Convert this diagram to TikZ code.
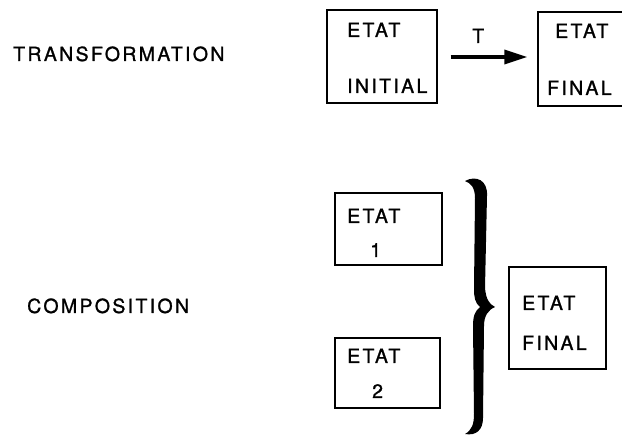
\documentclass[tikz,border=0pt]{standalone}
\usepackage{fontspec}
\setmainfont{TeX Gyre Heros}[LetterSpace=12,FakeBold=1.2]
\usetikzlibrary{arrows.meta}
\begin{document}
\begin{tikzpicture}[x=1pt,y=-1pt,
  box/.style={draw, line width=1.3pt, inner sep=0pt, rectangle},
  lbl/.style={anchor=base west, inner sep=0pt, font=\fontsize{19.5}{22}\selectfont}]
\useasboundingbox (0,0) rectangle (622,435);
\clip (0,0) rectangle (622,435);

% --- Transformation row ---
\node[lbl] (ttrans) at (13,61) {TRANSFORMATION};
\node[box, minimum width=110pt, minimum height=93pt] (init) at (382,56.5) {};
\node[box, minimum width=112pt, minimum height=94pt] (fin) at (594,59) {};
\node[lbl] at (347,37) {ETAT};
\node[lbl] at (347,93) {INITIAL};
\node[lbl] at (555,38) {ETAT};
\node[lbl] at (547,95) {FINAL};
\node[lbl] (tlab) at (472,43) {T};
\draw[line width=3.5pt, shorten <=13pt, shorten >=10pt,
      -{Triangle[length=23pt,width=14pt]}]
  (init.east |- 0,57) -- (fin.west |- 0,57);

% --- Composition row ---
\node[lbl] (tcomp) at (27,313) {COMPOSITION};
\node[box, minimum width=107pt, minimum height=72pt] (e1) at (388.5,229) {};
\node[box, minimum width=105pt, minimum height=70pt] (e2) at (387.5,373) {};
\node[box, minimum width=97pt, minimum height=102pt] (ef) at (557.5,318) {};
\node[lbl] at (347,223) {ETAT};
\node[lbl] at (370,257) {1};
\node[lbl] at (347,363) {ETAT};
\node[lbl] at (372,398) {2};
\node[lbl] at (522,310) {ETAT};
\node[lbl] at (522,350) {FINAL};

% thick curly brace joining the two states
\fill
  (465,181) .. controls (476,175) and (488,180) .. (487,196)
  -- (485,288) .. controls (486,299) and (489,304) .. (495,307)
  .. controls (488,310) and (484,316) .. (484,326)
  -- (483,418) .. controls (483,430) and (476,436) .. (465,434)
  .. controls (472,430) and (474,424) .. (474,414)
  -- (473,326) .. controls (473,316) and (475,311) .. (480,307)
  .. controls (475,303) and (474,297) .. (474,289)
  -- (475,198) .. controls (475,188) and (471,183) .. (465,181) -- cycle;
\end{tikzpicture}
\end{document}
